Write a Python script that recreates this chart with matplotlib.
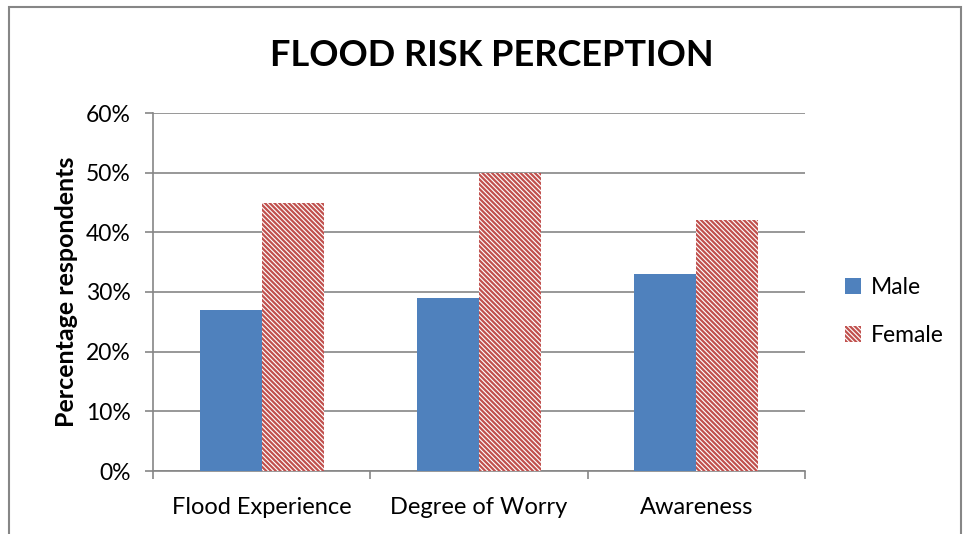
import numpy as np
import matplotlib
matplotlib.use("Agg")
import matplotlib.pyplot as plt
from matplotlib.patches import Rectangle
from matplotlib.ticker import FuncFormatter

categories = ["Flood Experience", "Degree of Worry", "Awareness"]
male = [27, 29, 33]
female = [45, 50, 42]
y_ticks = [0, 10, 20, 30, 40, 50, 60]

plt.rcParams["font.family"] = ["Lato", "DejaVu Sans"]
plt.rcParams["hatch.linewidth"] = 1.6

fig = plt.figure(figsize=(9.63, 5.34), dpi=100)
ax = fig.add_axes([153 / 963, 63 / 534, 652 / 963, 358 / 534])

# outer chart frame
fig.patches.append(Rectangle((9 / 963, -0.05), 952 / 963, 1.05 - 7 / 534,
                             transform=fig.transFigure, fill=False,
                             edgecolor="#868686", linewidth=1.5))

x = np.arange(len(categories))
w = 0.285
ax.bar(x - w / 2, male, w, color="#4F81BD", label="Male", zorder=3)
ax.bar(x + w / 2, female, w, color="white", edgecolor="#C0504D",
       hatch="\\" * 7, linewidth=0, label="Female", zorder=3)

ax.set_xlim(-0.5, 2.5)
ax.set_ylim(0, 60)
ax.set_yticks(y_ticks)
ax.yaxis.set_major_formatter(FuncFormatter(lambda v, p: f"{int(v)}%"))
ax.yaxis.grid(True, color="#868686", linewidth=1.2, zorder=0)

ax.set_xticks(x)
ax.set_xticklabels(categories)
ax.set_xticks([-0.5, 0.5, 1.5, 2.5], minor=True)
ax.tick_params(axis="x", which="major", length=0, pad=19, labelsize=17)
ax.tick_params(axis="x", which="minor", length=6, color="#868686", width=1.2)
ax.tick_params(axis="y", length=6, color="#868686", width=1.2, labelsize=16.5, pad=10)

for s in ["top", "right"]:
    ax.spines[s].set_visible(False)
for s in ["left", "bottom"]:
    ax.spines[s].set_color("#868686")
    ax.spines[s].set_linewidth(1.2)

ax.set_ylabel("Percentage respondents", fontsize=18, fontweight="bold", labelpad=6)
fig.text(492 / 963, 1 - 56 / 534, "FLOOD RISK PERCEPTION", ha="center", va="center",
         fontsize=26, fontweight="bold")

ax.legend(loc="center left", bbox_to_anchor=(1.03, 0.445), frameon=False,
          fontsize=16.5, handlelength=0.7, handleheight=0.7, handletextpad=0.4,
          labelspacing=1.2)

fig.savefig("out.png", dpi=100)
